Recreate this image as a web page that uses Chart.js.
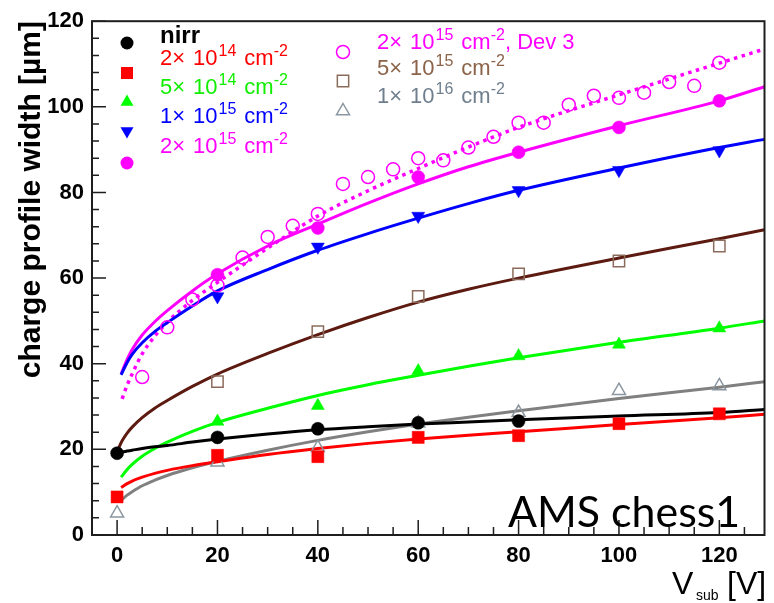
<!DOCTYPE html>
<html><head><meta charset="utf-8">
<script src="https://cdn.jsdelivr.net/npm/chart.js@4.4.1/dist/chart.umd.min.js"></script>
<style>html,body{margin:0;padding:0;background:#fff}#wrap{width:774px;height:603px}</style>
</head><body><div id="wrap"><canvas id="c" width="774" height="603"></canvas></div>
<script>
// ---- tick labels ----
const xTicks = [0, 20, 40, 60, 80, 100, 120];
const yTicks = [0, 20, 40, 60, 80, 100, 120];

// ---- measured points ----
const measX   = [0, 20, 40, 60, 80, 100, 120];
const nirrY   = [19.1, 22.8, 24.8, 26.2, 26.6, null, null];
const f2e14Y  = [8.9, 18.6, 18.3, 22.8, 23.2, 26.0, 28.3];
const f5e14Y  = [null, 26.5, 30.2, 38.3, 41.8, 44.5, 48.3];
const f1e15Y  = [null, 55.7, 67.3, 74.5, 80.5, 85.2, 89.8];
const f2e15Y  = [null, 60.8, 71.7, 83.6, 89.4, 95.2, 101.4];
const f5e15Y  = [null, 35.8, 47.5, 55.7, 61.0, 64.0, 67.5];
const f1e16Y  = [5.1, 17.0, 20.4, 26.1, 28.6, 33.7, 34.8];
const dev3X   = [5, 10, 15, 20, 25, 30, 35, 40, 45, 50, 55, 60, 65, 70, 75, 80, 85, 90, 95, 100, 105, 110, 115, 120];
const dev3Y   = [36.9, 48.5, 55.0, 58.3, 64.8, 69.6, 72.2, 75.0, 82.0, 83.6, 85.4, 88.0, 87.5, 90.5, 93.0, 96.3, 96.3, 100.5, 102.6, 102.1, 103.3, 105.8, 104.9, 110.3];

// ---- fit curves ----
const fitXa    = [0.8, 2, 3, 5, 7.5, 10, 15, 20, 30, 40, 50, 60, 70, 80, 100, 120, 129];
const fit2e15  = [37.6, 41.0, 43.3, 46.7, 49.8, 52.4, 57.0, 61.0, 67.5, 72.6, 77.5, 82.0, 86.0, 89.4, 95.6, 101.4, 104.7];
const fit1e15  = [37.4, 40.3, 42.2, 44.9, 47.5, 49.6, 53.5, 57.0, 62.0, 66.5, 70.4, 74.0, 77.4, 80.5, 85.7, 90.5, 92.4];
const fit5e14  = [13.5, 15.3, 16.5, 18.4, 20.2, 21.7, 24.2, 26.3, 29.6, 32.6, 35.1, 37.3, 39.4, 41.4, 45.0, 48.3, 50.0];
const fit2e14  = [11.1, 12.0, 12.6, 13.5, 14.4, 15.1, 16.2, 17.1, 18.8, 20.2, 21.4, 22.4, 23.3, 24.1, 25.8, 27.4, 28.2];
const fit1e16  = [8.1, 9.3, 10.1, 11.5, 12.8, 13.9, 15.7, 17.2, 19.8, 22.1, 24.1, 25.9, 27.5, 29.0, 31.9, 34.5, 35.8];
const fitXb    = [0, 1, 2, 3, 5, 7.5, 10, 15, 20, 30, 40, 50, 60, 70, 80, 100, 120, 129];
const fitNirr  = [19.2, 19.4, 19.6, 19.8, 20.2, 20.6, 20.9, 21.7, 22.4, 23.6, 24.6, 25.3, 25.9, 26.4, 26.9, 27.8, 28.6, 29.3];
const fit5e15  = [19.5, 22.0, 23.8, 25.2, 27.4, 29.6, 31.4, 34.7, 37.6, 42.4, 46.8, 50.8, 54.4, 57.4, 60.0, 64.7, 69.2, 71.3];
const fitXd    = [1, 2, 3, 5, 7.5, 10, 15, 20, 30, 40, 50, 60, 70, 80, 100, 120, 129];
const fitDev3  = [31.8, 35.0, 37.6, 42.3, 46.4, 49.7, 54.8, 59.0, 67.0, 74.5, 80.4, 85.6, 90.6, 95.2, 102.8, 110.2, 113.5];

// ---- legend ----
const legendCoef = ['2', '5', '1', '2', '2', '5', '1'];
const legendExp  = ['14', '14', '15', '15', '15', '15', '16'];
const legendSuffix = ['', '', '', '', ', Dev 3', '', ''];

const C = {
  nirr:'#000000', r:'#ff0000', g:'#00ff00', b:'#0000ff', m:'#ff00ff',
  brownLine:'#5c1a10', brownMk:'#8b6c5c', grayLine:'#808080', grayMk:'#8a96a0'
};

function pts(xs, ys){ const o=[]; xs.forEach((x,i)=>{ if(ys[i]!==null) o.push({x:x,y:ys[i]}); }); return o; }
function mk(data, color, style, r, open, rot){
  return {data:data, showLine:false, pointStyle:style, pointRadius:r, pointHoverRadius:r,
    pointRotation:rot||0, pointBorderColor:color, pointBackgroundColor:open?'rgba(0,0,0,0)':color,
    pointBorderWidth:open?1.5:0.5, borderColor:color, backgroundColor:color};
}
function fit(data, color, w, dash){
  return {data:data, showLine:true, pointRadius:0, pointHoverRadius:0, borderColor:color, borderWidth:w,
    borderDash:dash||[], cubicInterpolationMode:'monotone', fill:false, backgroundColor:color};
}

const datasets = [
  mk(pts(measX, nirrY), C.nirr, 'circle', 6.5, false),
  mk(pts(measX, f2e14Y), C.r, 'rect', 8.5, false),
  mk(pts(measX, f5e14Y), C.g, 'triangle', 7.5, false),
  mk(pts(measX, f1e15Y), C.b, 'triangle', 7.5, false, 180),
  mk(pts(measX, f2e15Y), C.m, 'circle', 6.5, false),
  mk(pts(dev3X, dev3Y), C.m, 'circle', 6.5, true),
  mk(pts(measX, f5e15Y), C.brownMk, 'rect', 8, true),
  mk(pts(measX, f1e16Y), C.grayMk, 'triangle', 7.5, true),
  fit(pts(fitXb, fitNirr), C.nirr, 3),
  fit(pts(fitXa, fit2e14), C.r, 3),
  fit(pts(fitXa, fit5e14), C.g, 3),
  fit(pts(fitXa, fit1e15), C.b, 3),
  fit(pts(fitXa, fit2e15), C.m, 3),
  fit(pts(fitXd, fitDev3), C.m, 3.5, [3.5, 4.5]),
  fit(pts(fitXb, fit5e15), C.brownLine, 3),
  fit(pts(fitXa, fit1e16), C.grayLine, 3)
];

const SANS = '"Liberation Sans", Arial, Helvetica, sans-serif';

function marker(ctx, x, y, style, color, open, r){
  ctx.save();
  ctx.fillStyle = color; ctx.strokeStyle = color; ctx.lineWidth = 1.5;
  ctx.beginPath();
  if (style==='circle') ctx.arc(x, y, r, 0, Math.PI*2);
  else if (style==='rect') { const s=r*Math.SQRT1_2; ctx.rect(x-s, y-s, 2*s, 2*s); }
  else if (style==='tri') { ctx.moveTo(x, y-r); ctx.lineTo(x+r*0.866, y+r*0.5); ctx.lineTo(x-r*0.866, y+r*0.5); ctx.closePath(); }
  else if (style==='tridown') { ctx.moveTo(x, y+r); ctx.lineTo(x+r*0.866, y-r*0.5); ctx.lineTo(x-r*0.866, y-r*0.5); ctx.closePath(); }
  if (open) ctx.stroke(); else ctx.fill();
  ctx.restore();
}

function rich(ctx, x, y, i, color){
  const base = '22px ' + SANS, sup = '16px ' + SANS;
  ctx.fillStyle = color; ctx.textBaseline = 'alphabetic'; ctx.textAlign = 'left';
  let cx = x;
  const seg = (t, f, dy) => { ctx.font = f; ctx.fillText(t, cx, y + dy); cx += ctx.measureText(t).width; };
  seg(legendCoef[i] + '\u00d7', base, 0);
  cx += 8;
  seg('10', base, 0);
  cx += 1;
  seg(legendExp[i], sup, -9);
  cx += 8;
  seg('cm', base, 0);
  seg('-2', sup, -9);
  if (legendSuffix[i]) seg(legendSuffix[i], base, 0);
}

const deco = {
  id: 'deco',
  afterDraw(chart){
    const ctx = chart.ctx, a = chart.chartArea, xs = chart.scales.x, ys = chart.scales.y;
    ctx.save();
    // frame
    ctx.strokeStyle = '#1e1e1e'; ctx.lineWidth = 2;
    ctx.strokeRect(a.left, a.top, a.right - a.left, a.bottom - a.top);
    // inward ticks
    ctx.lineWidth = 1.5; ctx.beginPath();
    for (let v = -5; v <= 129; v += 5) {
      const px = xs.getPixelForValue(v); const L = (v % 20 === 0) ? 15 : 8;
      ctx.moveTo(px, a.bottom); ctx.lineTo(px, a.bottom - L);
    }
    for (let v = 0; v <= 120; v += 4) {
      const py = ys.getPixelForValue(v); const L = (v % 20 === 0) ? 14 : 7;
      ctx.moveTo(a.left, py); ctx.lineTo(a.left + L, py);
    }
    ctx.stroke();

    // y title
    ctx.save();
    ctx.translate(40, 21); ctx.rotate(-Math.PI/2);
    ctx.font = 'bold 30px ' + SANS; ctx.fillStyle = '#000'; ctx.textAlign = 'right'; ctx.textBaseline = 'alphabetic';
    ctx.fillText('charge profile width [\u00b5m]', 0, 0);
    ctx.restore();

    // x title
    ctx.fillStyle = '#000'; ctx.textAlign = 'left'; ctx.textBaseline = 'alphabetic';
    ctx.font = '32px ' + SANS; ctx.fillText('V', 672, 594);
    ctx.font = '14px ' + SANS; ctx.fillText('sub', 696, 600);
    ctx.font = '32px ' + SANS; ctx.fillText('[V]', 727, 594);

    // AMS chess1
    ctx.font = '44px Lato, "Open Sans", sans-serif';
    let w = ctx.measureText('AMS chess1').width;
    const fs = 44 * 232 / w;
    ctx.font = fs.toFixed(1) + 'px Lato, "Open Sans", sans-serif';
    ctx.fillStyle = '#000';
    ctx.fillText('AMS chess1', 508, 527);

    // legend, left column
    marker(ctx, 127, 43, 'circle', C.nirr, false, 6.5);
    ctx.font = 'bold 24px ' + SANS; ctx.fillStyle = '#000'; ctx.fillText('nirr', 160, 43);
    const leftRows = [
      {y:73, base:65, st:'rect', col:C.r, txt:'#ff0000', r:8.5},
      {y:102, base:94, st:'tri', col:C.g, txt:'#11ee00', r:7.5},
      {y:131, base:123, st:'tridown', col:C.b, txt:'#0000ff', r:7.5},
      {y:163, base:153, st:'circle', col:C.m, txt:'#ff00ff', r:6.5}
    ];
    leftRows.forEach((row, k) => { marker(ctx, 127, row.y, row.st, row.col, false, row.r); rich(ctx, 160, row.base, k, row.txt); });
    const rightRows = [
      {y:52, base:49, st:'circle', col:C.m, txt:'#ff00ff', r:6.5},
      {y:81, base:75, st:'rect', col:C.brownMk, txt:'#8b6349', r:8},
      {y:111, base:103, st:'tri', col:C.grayMk, txt:'#6f7f8e', r:7.5}
    ];
    rightRows.forEach((row, k) => { marker(ctx, 343, row.y, row.st, row.col, true, row.r); rich(ctx, 377, row.base, k + 4, row.txt); });
    ctx.restore();
  }
};

const tickFont = {family: SANS, size: 22, weight: 'bold'};
new Chart(document.getElementById('c'), {
  type: 'scatter',
  data: {datasets: datasets},
  options: {
    responsive: false, animation: false,
    layout: {padding: {top: 18, right: 6, left: 0, bottom: 0}},
    plugins: {legend: {display: false}, tooltip: {enabled: false}},
    scales: {
      x: {type: 'linear', min: -5, max: 129,
          grid: {display: false, drawTicks: false}, border: {display: false},
          ticks: {padding: 8, font: tickFont, color: '#000', maxRotation: 0, autoSkip: false},
          afterBuildTicks: s => { s.ticks = xTicks.map(v => ({value: v})); },
          afterFit: s => { s.height = 68; }},
      y: {type: 'linear', min: 0, max: 120,
          grid: {display: false, drawTicks: false}, border: {display: false},
          ticks: {padding: 8, font: tickFont, color: '#000', autoSkip: false},
          afterBuildTicks: s => { s.ticks = yTicks.map(v => ({value: v})); },
          afterFit: s => { s.width = 92; }}
    }
  },
  plugins: [deco]
});
</script>
</body></html>
